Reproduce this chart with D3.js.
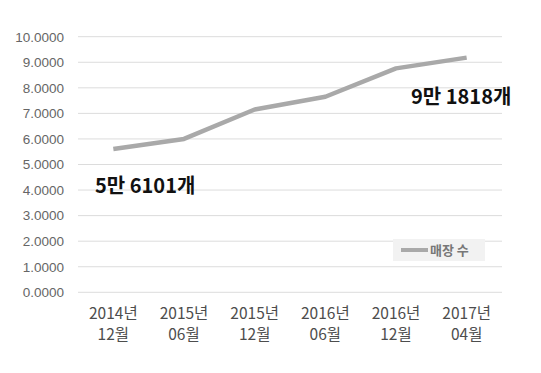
<!DOCTYPE html>
<html><head><meta charset="utf-8">
<script src="https://cdn.jsdelivr.net/npm/d3@7"></script>
<style>body{margin:0;background:#fff;}svg{display:block;}</style>
</head><body>
<svg id="c" width="541" height="373"></svg>
<script>
const categories = [["2014년","12월"],["2015년","06월"],["2015년","12월"],["2016년","06월"],["2016년","12월"],["2017년","04월"]];
const values = [5.6101, 6.0, 7.15, 7.65, 8.76, 9.1818];
const yTicks = [0,1,2,3,4,5,6,7,8,9,10];
const seriesName = "매장 수";
const annotations = [{i:0, text:"5만 6101개"},{i:5, text:"9만 1818개"}];

const svg = d3.select("#c");
const font = "'Noto Sans CJK KR','Noto Sans',sans-serif";
const x = d3.scaleBand().domain(d3.range(categories.length)).range([78,502]);
const y = d3.scaleLinear().domain([0,10]).range([292.3,36.7]);

// grid
svg.append("g").selectAll("line").data(yTicks).join("line")
  .attr("x1",78).attr("x2",502).attr("y1",d=>y(d)).attr("y2",d=>y(d))
  .attr("stroke","#dcdcdc").attr("stroke-width",1);

// y labels
const yAxis = svg.append("g").attr("transform","translate(67,0)")
  .call(d3.axisLeft(y).tickValues(yTicks).tickSize(0).tickFormat(d=>d.toFixed(4)));
yAxis.select(".domain").remove();
yAxis.selectAll("text").attr("font-family","Arial,'Liberation Sans',sans-serif").attr("font-size",13.5).attr("fill","#666").attr("dx",0);

// x labels
const xAxis = svg.append("g").attr("transform","translate(0,292.3)")
  .call(d3.axisBottom(x).tickSize(0).tickFormat(""));
xAxis.select(".domain").remove();
xAxis.selectAll(".tick").each(function(d){
  const t = d3.select(this).append("text").attr("fill","#4d4d4d").attr("font-family",font)
    .attr("font-size",15.5).attr("text-anchor","middle");
  t.append("tspan").attr("x",0).attr("y",27).text(categories[d][0]);
  t.append("tspan").attr("x",0).attr("y",48).text(categories[d][1]);
});

// line
const line = d3.line().x((d,i)=>x(i)+x.bandwidth()/2).y(d=>y(d));
svg.append("path").datum(values).attr("d",line).attr("fill","none")
  .attr("stroke","#a9a9a9").attr("stroke-width",4.5).attr("stroke-linejoin","round");

// annotations
svg.append("text").attr("x",95).attr("y",193).attr("font-family",font).attr("font-size",20)
  .attr("font-weight","bold").attr("fill","#111").text(annotations[0].text);
svg.append("text").attr("x",411).attr("y",104).attr("font-family",font).attr("font-size",20)
  .attr("font-weight","bold").attr("fill","#111").text(annotations[1].text);

// legend
const lg = svg.append("g");
lg.append("rect").attr("x",393).attr("y",239).attr("width",92).attr("height",22).attr("fill","#f2f2f2");
lg.append("line").attr("x1",401).attr("x2",428).attr("y1",250).attr("y2",250).attr("stroke","#a9a9a9").attr("stroke-width",4);
lg.append("text").attr("x",430).attr("y",255).attr("font-family",font).attr("font-size",13)
  .attr("font-weight","bold").attr("fill","#777").text(seriesName);
</script>
</body></html>
